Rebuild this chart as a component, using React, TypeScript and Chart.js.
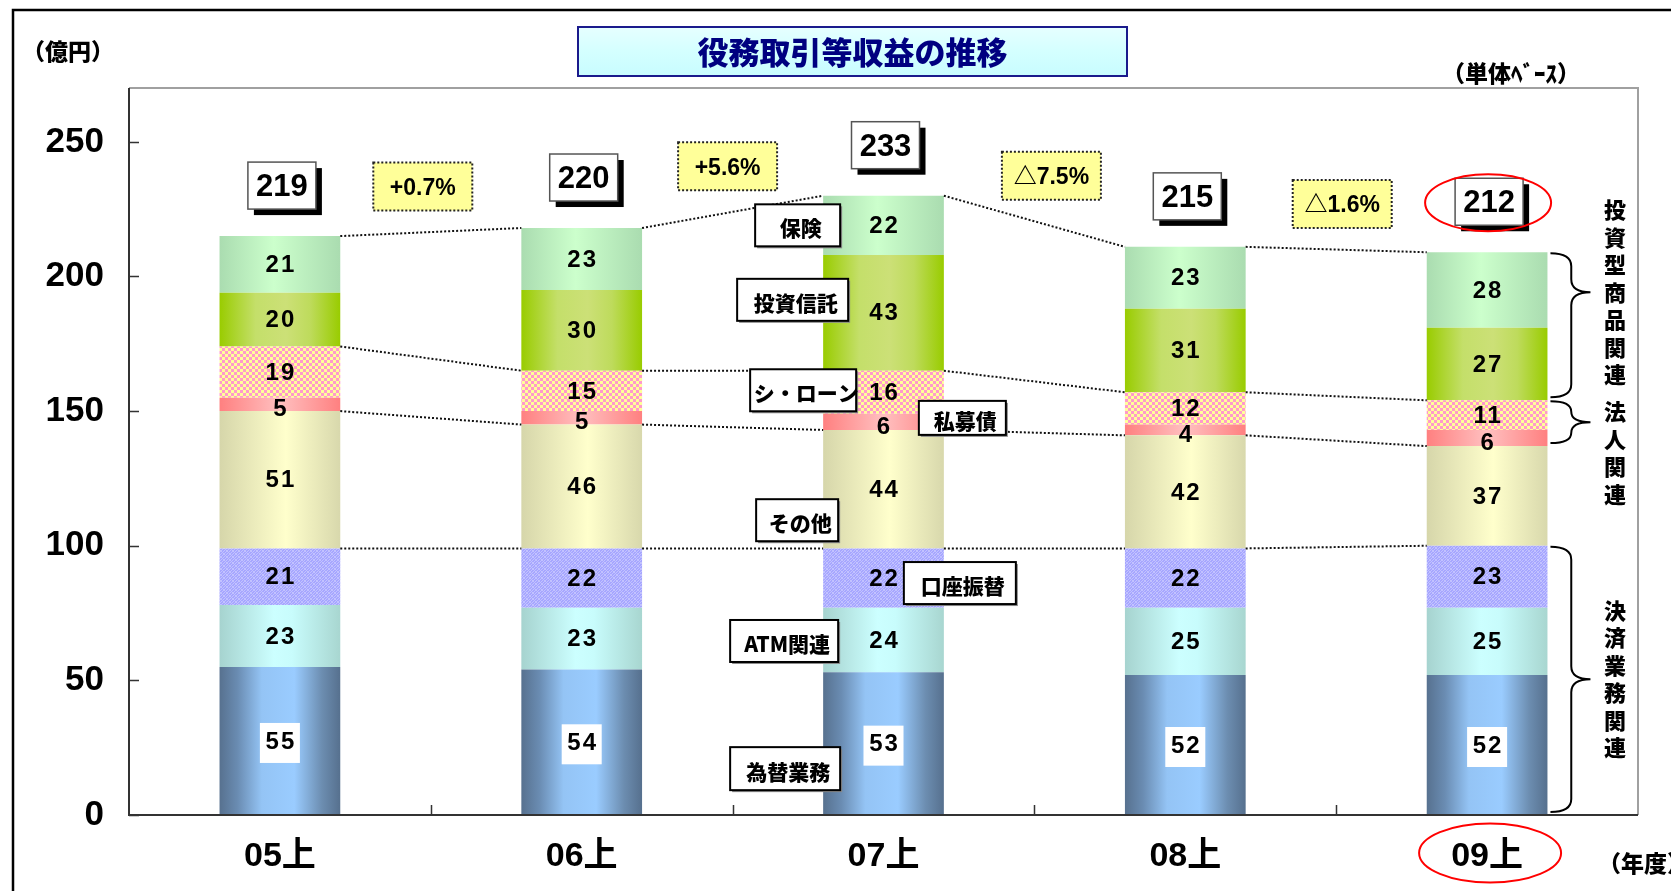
import { useEffect, useRef } from 'react';
import { Chart, registerables } from 'chart.js';

Chart.register(...registerables);

// ---------- data ----------
const categories = ['05上', '06上', '07上', '08上', '09上'];
const fxValues = [55, 54, 53, 52, 52]; // 為替業務
const atmValues = [23, 23, 24, 25, 25]; // ATM関連
const transferValues = [21, 22, 22, 22, 23]; // 口座振替
const otherValues = [51, 46, 44, 42, 37]; // その他
const privateBondValues = [5, 5, 6, 4, 6]; // 私募債
const syndicatedLoanValues = [19, 15, 16, 12, 11]; // シ・ローン
const investmentTrustValues = [20, 30, 43, 31, 27]; // 投資信託
const insuranceValues = [21, 23, 22, 23, 28]; // 保険
const totalLabels = ['219', '220', '233', '215', '212'];
const changeLabels = ['+0.7%', '+5.6%', '△7.5%', '△1.6%'];
const seriesNames = ['為替業務', 'ATM関連', '口座振替', 'その他', '私募債', 'シ・ローン', '投資信託', '保険'];
const groupNames = ['決済業務関連', '法人関連', '投資型商品関連'];
const yMax = 270;
const yStep = 50;

const seriesValues = [
  fxValues, atmValues, transferValues, otherValues,
  privateBondValues, syndicatedLoanValues, investmentTrustValues, insuranceValues,
];

// ---------- styles ----------
const FONT_NUM = '"Liberation Sans", Arial, "Noto Sans CJK JP", sans-serif';
const FONT_JP = '"Noto Sans CJK JP", "Liberation Sans", sans-serif';

const gradientStops: Record<number, [number, string][]> = {
  0: [[0, '#57718f'], [0.15, '#6a8cb2'], [0.35, '#94c4f5'], [0.62, '#9accff'], [0.85, '#6c8db0'], [1, '#56708e']],
  1: [[0, '#a6d3cf'], [0.45, '#ccffff'], [0.6, '#c8fcfc'], [1, '#a8d6d0']],
  3: [[0, '#d6d6aa'], [0.55, '#ffffcc'], [1, '#d8d8ac']],
  4: [[0, '#ff8080'], [0.5, '#ffc0c0'], [1, '#ff8080']],
  6: [[0, '#99cc00'], [0.3, '#c4df6a'], [0.55, '#cce077'], [0.75, '#bedb5c'], [1, '#99cc00']],
  7: [[0, '#aadcb0'], [0.45, '#ccffcc'], [1, '#aadcb0']],
};

let transferPattern: CanvasPattern | null = null;
let loanPattern: CanvasPattern | null = null;

function makePatterns(ctx: CanvasRenderingContext2D) {
  if (!transferPattern) {
    const c = document.createElement('canvas');
    c.width = 6; c.height = 6;
    const p = c.getContext('2d')!;
    p.fillStyle = '#a6a6ff';
    p.fillRect(0, 0, 6, 6);
    p.fillStyle = '#c2c2ff';
    for (let i = 0; i < 6; i++) for (let j = 0; j < 6; j++) {
      if ((i + j) % 3 === 0 || (i - j + 6) % 6 === 0) p.fillRect(i, j, 1, 1);
    }
    transferPattern = ctx.createPattern(c, 'repeat');
  }
  if (!loanPattern) {
    const c = document.createElement('canvas');
    c.width = 6; c.height = 6;
    const p = c.getContext('2d')!;
    p.fillStyle = '#ffff99';
    p.fillRect(0, 0, 6, 6);
    p.fillStyle = '#ff99cc';
    p.fillRect(0, 0, 3, 3);
    p.fillRect(3, 3, 3, 3);
    loanPattern = ctx.createPattern(c, 'repeat');
  }
}

function fillFor(k: number, c: any) {
  const chart = c.chart;
  makePatterns(chart.ctx);
  if (k === 2) return transferPattern as any;
  if (k === 5) return loanPattern as any;
  const stops = gradientStops[k];
  const xs = chart.scales?.x;
  if (!xs || c.dataIndex == null || !chart.chartArea) return stops[1][1];
  const center = xs.getPixelForValue(c.dataIndex);
  const w = (xs.width / categories.length) * 0.4;
  const g = chart.ctx.createLinearGradient(center - w / 2, 0, center + w / 2, 0);
  stops.forEach(([o, col]) => g.addColorStop(o, col));
  return g;
}

function cumulative(level: number, i: number) {
  let s = 0;
  for (let k = 0; k < level; k++) s += seriesValues[k][i];
  return s;
}

// ---------- annotation layout ----------
const calloutBar = 2;
const callouts = [
  { series: 0, side: 'left', inset: 17, w: 110, h: 43, dy: 25 },
  { series: 1, side: 'left', inset: 15, w: 108, h: 42, dy: 1 },
  { series: 2, side: 'right', inset: 40, w: 112, h: 42, dy: 5 },
  { series: 3, side: 'left', inset: 15, w: 82, h: 42, dy: 31 },
  { series: 4, side: 'right', inset: 25, w: 87, h: 34, dy: -4 },
  { series: 5, side: 'left', inset: 33, w: 106, h: 42, dy: -2 },
  { series: 6, side: 'left', inset: 25, w: 111, h: 42, dy: -13 },
  { series: 7, side: 'left', inset: 17, w: 85, h: 42, dy: 0 },
];
const braces = [
  { from: 0, to: 3, tip: 0.5, name: 0, textDy: 0 },
  { from: 4, to: 6, tip: 0.5, name: 1, textDy: 31 },
  { from: 6, to: 8, tip: 0.27, name: 2, textDy: 0 },
];
const connectorLevels = [3, 4, 6, 8];
const pctDx = [-8, -5, 17, 6];

const overlayPlugin = {
  id: 'overlay',
  beforeDraw(chart: any) {
    const ctx: CanvasRenderingContext2D = chart.ctx;
    const { chartArea: a } = chart;
    ctx.save();
    ctx.fillStyle = '#ffffff';
    ctx.fillRect(0, 0, chart.width, chart.height);
    // outer frame
    ctx.strokeStyle = '#000';
    ctx.lineWidth = 2.5;
    ctx.strokeRect(13, 10, chart.width + 20, chart.height + 20);
    // plot border (top / right)
    ctx.strokeStyle = '#a0a0a0';
    ctx.lineWidth = 2;
    ctx.beginPath();
    ctx.moveTo(a.left, a.top);
    ctx.lineTo(a.right, a.top);
    ctx.lineTo(a.right, a.bottom);
    ctx.stroke();
    // title box
    const tx = 578, ty = 27, tw = 549, th = 49;
    const g = ctx.createLinearGradient(0, ty, 0, ty + th);
    g.addColorStop(0, '#e6ffff');
    g.addColorStop(0.5, '#d4ffff');
    g.addColorStop(1, '#c8fcff');
    ctx.fillStyle = g;
    ctx.fillRect(tx, ty, tw, th);
    ctx.strokeStyle = '#1a1a8c';
    ctx.lineWidth = 2;
    ctx.strokeRect(tx, ty, tw, th);
    ctx.fillStyle = '#000080';
    ctx.font = `900 31px ${FONT_JP}`;
    ctx.textAlign = 'center';
    ctx.textBaseline = 'middle';
    ctx.fillText('役務取引等収益の推移', tx + tw / 2, ty + th / 2 + 1);
    // header texts
    ctx.fillStyle = '#000';
    ctx.font = `900 23px ${FONT_JP}`;
    ctx.textAlign = 'left';
    ctx.fillText('（億円）', 22, 51);
    ctx.textAlign = 'center';
    ctx.font = `900 23px ${FONT_JP}`;
    ctx.fillText('（単体ﾍﾞｰｽ）', 1511, 73);
    ctx.textAlign = 'left';
    ctx.font = `900 23px ${FONT_JP}`;
    ctx.fillText('（年度）', 1598, 863);
    ctx.restore();
  },
  afterDatasetsDraw(chart: any) {
    const ctx: CanvasRenderingContext2D = chart.ctx;
    const a = chart.chartArea;
    const xs = chart.scales.x;
    const ys = chart.scales.y;
    const n = categories.length;
    const catW = xs.width / n;
    const barW = catW * 0.4;
    const cx = (i: number) => xs.getPixelForValue(i);
    const left = (i: number) => cx(i) - barW / 2;
    const right = (i: number) => cx(i) + barW / 2;
    const yp = (v: number) => ys.getPixelForValue(v);

    ctx.save();
    // axis lines
    ctx.strokeStyle = '#333';
    ctx.lineWidth = 2;
    ctx.beginPath();
    ctx.moveTo(a.left, a.top);
    ctx.lineTo(a.left, a.bottom);
    ctx.lineTo(a.right, a.bottom);
    ctx.stroke();
    ctx.lineWidth = 1.5;
    ctx.beginPath();
    for (let v = 0; v <= yMax; v += yStep) {
      const y = Math.round(yp(v)) + 0.5;
      ctx.moveTo(a.left, y);
      ctx.lineTo(a.left + 10, y);
    }
    for (let i = 0; i < n - 1; i++) {
      const x = Math.round(cx(i) + catW / 2) + 0.5;
      ctx.moveTo(x, a.bottom);
      ctx.lineTo(x, a.bottom - 10);
    }
    ctx.stroke();

    // connector dotted lines
    ctx.strokeStyle = '#111';
    ctx.lineWidth = 2;
    ctx.setLineDash([2, 2]);
    for (const lvl of connectorLevels) {
      ctx.beginPath();
      for (let i = 0; i < n - 1; i++) {
        ctx.moveTo(right(i), yp(cumulative(lvl, i)));
        ctx.lineTo(left(i + 1), yp(cumulative(lvl, i + 1)));
      }
      ctx.stroke();
    }
    ctx.setLineDash([]);

    // value labels
    ctx.textAlign = 'center';
    ctx.textBaseline = 'middle';
    ctx.font = `bold 24px ${FONT_NUM}`;
    (ctx as any).letterSpacing = '2px';
    for (let k = 0; k < seriesValues.length; k++) {
      for (let i = 0; i < n; i++) {
        const v = seriesValues[k][i];
        const y0 = yp(cumulative(k, i));
        const y1 = yp(cumulative(k + 1, i));
        let my = (y0 + y1) / 2 + 1;
        if (v < 8) my += 4;
        if (k === 0) {
          ctx.fillStyle = '#fff';
          ctx.fillRect(cx(i) - 20, my - 19, 40, 40);
        }
        ctx.fillStyle = '#000';
        ctx.fillText(String(v), cx(i) + 1, my);
      }
    }
    (ctx as any).letterSpacing = '0px';

    // callouts on the 07 bar
    ctx.font = `900 21px ${FONT_JP}`;
    for (const c of callouts) {
      const i = calloutBar;
      const y0 = yp(cumulative(c.series, i));
      const y1 = yp(cumulative(c.series + 1, i));
      const my = (y0 + y1) / 2 + c.dy;
      const bx = c.side === 'left' ? left(i) + c.inset - c.w : right(i) - c.inset;
      const by = my - c.h / 2;
      ctx.fillStyle = '#8a8a8a';
      ctx.fillRect(bx + 2, by + 2, c.w, c.h);
      ctx.fillStyle = '#fff';
      ctx.fillRect(bx, by, c.w, c.h);
      ctx.strokeStyle = '#000';
      ctx.lineWidth = 2;
      ctx.strokeRect(bx, by, c.w, c.h);
      ctx.fillStyle = '#000';
      ctx.fillText(seriesNames[c.series], bx + c.w / 2 + 3, my + 3);
    }

    // total boxes
    const boxCY: number[] = [];
    const tbW = 68, tbH = 47;
    for (let i = 0; i < n; i++) {
      const top = yp(cumulative(seriesValues.length, i));
      const bx = cx(i) + 2 - tbW / 2;
      const by = top - 27 - tbH;
      boxCY.push(by + tbH / 2);
      ctx.fillStyle = '#000';
      ctx.fillRect(bx + 6, by + 6, tbW, tbH);
      ctx.fillStyle = '#fff';
      ctx.fillRect(bx, by, tbW, tbH);
      ctx.strokeStyle = '#555';
      ctx.lineWidth = 1.5;
      ctx.strokeRect(bx, by, tbW, tbH);
      ctx.fillStyle = '#000';
      ctx.font = `bold 31px ${FONT_NUM}`;
      ctx.fillText(totalLabels[i], bx + tbW / 2, by + tbH / 2 + 2);
    }

    // change boxes
    const pw = 99, ph = 48;
    for (let i = 0; i < n - 1; i++) {
      const mx = (cx(i) + cx(i + 1)) / 2 + pctDx[i];
      const my = (boxCY[i] + boxCY[i + 1]) / 2 + 5;
      const bx = mx - pw / 2, by = my - ph / 2;
      ctx.fillStyle = '#ffff99';
      ctx.fillRect(bx, by, pw, ph);
      ctx.strokeStyle = '#222';
      ctx.lineWidth = 2;
      ctx.setLineDash([2, 2]);
      ctx.strokeRect(bx, by, pw, ph);
      ctx.setLineDash([]);
      ctx.fillStyle = '#000';
      ctx.font = `bold 23px ${FONT_NUM}`;
      ctx.fillText(changeLabels[i], mx, my + 2);
    }

    // braces + group labels on last bar
    const li = n - 1;
    ctx.strokeStyle = '#000';
    ctx.lineWidth = 2;
    for (const b of braces) {
      const yTop = yp(cumulative(b.to, li)) + 1;
      const yBot = yp(cumulative(b.from, li)) - 3;
      const yTip = yTop + (yBot - yTop) * b.tip;
      const x0 = right(li) + 3;
      const w = 40;
      const xm = x0 + w * 0.52;
      const r = Math.min(13, (yBot - yTop) / 4);
      ctx.beginPath();
      ctx.moveTo(x0, yTop);
      ctx.quadraticCurveTo(xm, yTop, xm, yTop + r);
      ctx.lineTo(xm, yTip - r);
      ctx.quadraticCurveTo(xm, yTip, x0 + w, yTip);
      ctx.quadraticCurveTo(xm, yTip, xm, yTip + r);
      ctx.lineTo(xm, yBot - r);
      ctx.quadraticCurveTo(xm, yBot, x0, yBot);
      ctx.stroke();
      const label = groupNames[b.name];
      const chars = Array.from(label);
      const sp = 27.5;
      const cy0 = yTip + b.textDy - ((chars.length - 1) * sp) / 2;
      ctx.fillStyle = '#000';
      ctx.font = `900 22px ${FONT_JP}`;
      chars.forEach((ch, j) => ctx.fillText(ch, 1615, cy0 + j * sp));
    }

    // red ellipses
    ctx.strokeStyle = '#ff0000';
    ctx.lineWidth = 2;
    ctx.beginPath();
    ctx.ellipse(cx(li) + 1, boxCY[li] + 1, 63, 28.5, 0, 0, Math.PI * 2);
    ctx.stroke();
    ctx.beginPath();
    ctx.ellipse(cx(li) + 3, a.bottom + 38, 71, 29.5, 0, 0, Math.PI * 2);
    ctx.stroke();
    ctx.restore();
  },
};

export default function App() {
  const ref = useRef<HTMLCanvasElement>(null);
  useEffect(() => {
    const canvas = ref.current!;
    const chart = new Chart(canvas, {
      type: 'bar',
      data: {
        labels: categories,
        datasets: seriesValues.map((vals, k) => ({
          label: seriesNames[k],
          data: vals,
          backgroundColor: (c: any) => fillFor(k, c),
          borderWidth: 0,
          barPercentage: 0.4,
          categoryPercentage: 1,
          stack: 's',
        })),
      },
      options: {
        responsive: false,
        animation: false,
        layout: { padding: { top: 88, right: 33, left: 0, bottom: 0 } },
        plugins: {
          legend: { display: false },
          tooltip: { enabled: false },
          title: { display: false },
        },
        scales: {
          x: {
            stacked: true,
            grid: { display: false, drawTicks: false },
            border: { display: false },
            ticks: { font: { family: FONT_NUM, size: 34, weight: 'bold' }, color: '#000', padding: 21 },
            afterFit: (s: any) => { s.height = 76; },
          },
          y: {
            stacked: true,
            min: 0,
            max: yMax,
            grid: { display: false, drawTicks: false },
            border: { display: false },
            ticks: {
              stepSize: yStep,
              includeBounds: false,
              font: { family: FONT_NUM, size: 35, weight: 'bold' },
              color: '#000',
              padding: 25,
            },
            afterFit: (s: any) => { s.width = 129; },
          },
        },
      } as any,
      plugins: [overlayPlugin],
    });
    return () => chart.destroy();
  }, []);
  return (
    <div style={{ position: 'absolute', left: 0, top: 0, width: 1671, height: 891, background: '#fff' }}>
      <canvas ref={ref} width={1671} height={891} style={{ width: 1671, height: 891, display: 'block' }} />
    </div>
  );
}
